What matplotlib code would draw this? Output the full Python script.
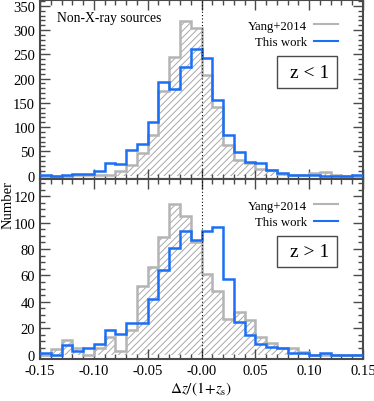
import numpy as np
import matplotlib
matplotlib.use("Agg")
import matplotlib.pyplot as plt
from matplotlib.ticker import MultipleLocator, FixedLocator
from matplotlib.patches import Rectangle
from matplotlib.lines import Line2D

plt.rcParams['font.family'] = ['Liberation Serif', 'DejaVu Serif']
plt.rcParams['mathtext.fontset'] = 'stix'
plt.rcParams['hatch.linewidth'] = 0.7

# bin edges: -0.15 .. 0.15 step 0.01
edges = np.round(np.arange(-0.15, 0.1501, 0.01), 3)

# z < 1 panel
yang_lo = [0, 0, 0, 1, 1, 2, 2, 10, 22, 47, 84, 175, 245, 318, 304,
           207, 141, 63, 33, 27, 14, 11, 3, 2, 2, 5, 7, 1, 0, 0]
this_lo = [1, 0, 1, 4, 4, 10, 26, 23, 53, 65, 110, 193, 178, 224, 260,
           243, 155, 84, 48, 29, 25, 11, 5, 2, 1, 1, 0, 0, 0, 1]

# z > 1 panel
yang_hi = [0, 4, 11, 5, 0, 5, 13, 3, 19, 52, 66, 89, 114, 105, 85,
           61, 48, 27, 32, 26, 13, 9, 5, 5, 2, 0, 0, 0, 0, 0]
this_hi = [1, 0, 7, 3, 5, 8, 19, 16, 24, 24, 42, 64, 81, 94, 87,
           94, 97, 57, 25, 15, 8, 6, 5, 1, 1, 0, 1, 0, 0, 0]

xticks = [-0.15, -0.10, -0.05, 0.00, 0.05, 0.10, 0.15]
xticklabels = ['-0.15', '-0.10', '-0.05', '-0.00', '0.05', '0.10', '0.15']
panel_labels = ['z < 1', 'z > 1']
legend_labels = ['Yang+2014', 'This work']

GRAY = '#b4b4b4'
HATCH = '#a8a8a8'
BLUE = '#1a6ff5'
SPINE = '#4a4a4a'

W, H = 374, 402
fig = plt.figure(figsize=(W / 100, H / 100), dpi=100)

def frac(x0, y0, x1, y1):
    return [x0 / W, 1 - y1 / H, (x1 - x0) / W, (y1 - y0) / H]

ax1 = fig.add_axes(frac(40, 1, 363, 180))
ax2 = fig.add_axes(frac(40, 180, 363, 360))

def draw(ax, yang, this, ylim, major, minor, label, show_x, leg_top):
    ax.stairs(yang, edges, fill=True, facecolor='white', edgecolor=HATCH,
              hatch='/////', linewidth=0, zorder=1)
    ax.stairs(yang, edges, color=GRAY, linewidth=1.8, zorder=2)
    ax.stairs(this, edges, color=BLUE, linewidth=1.8, zorder=3)
    ax.axvline(0.0, color='black', linestyle=(0, (1, 2)), linewidth=0.8, zorder=4)
    ax.set_xlim(-0.15, 0.15)
    ax.set_ylim(*ylim)
    ax.xaxis.set_major_locator(FixedLocator(xticks))
    ax.xaxis.set_minor_locator(MultipleLocator(0.01))
    ax.yaxis.set_major_locator(MultipleLocator(major))
    ax.yaxis.set_minor_locator(MultipleLocator(minor))
    ax.tick_params(which='both', direction='in', top=True, right=True,
                   color=SPINE, labelsize=10.5, width=1.0)
    ax.tick_params(which='major', length=7)
    ax.tick_params(which='minor', length=3.5)
    for s in ax.spines.values():
        s.set_color(SPINE)
        s.set_linewidth(1.5)
    if show_x:
        ax.set_xticklabels(xticklabels)
    else:
        ax.set_xticklabels([])
    handles = [Line2D([], [], color=GRAY, lw=1.5), Line2D([], [], color=BLUE, lw=1.5)]
    ax.legend(handles, legend_labels, loc='upper right', frameon=False,
              markerfirst=False, fontsize=9.2, handlelength=1.85,
              borderpad=0, borderaxespad=0, labelspacing=0.35,
              handletextpad=0.6, bbox_to_anchor=(0.923, leg_top))
    ax.add_patch(Rectangle((0.734, 0.51), 0.186, 0.175, transform=ax.transAxes,
                           fill=False, edgecolor=SPINE, linewidth=1.0, zorder=5))
    ax.text(0.895, 0.597, label, transform=ax.transAxes, ha='right', va='center',
            fontsize=14, zorder=6)

draw(ax1, yang_lo, this_lo, (-7, 362), 50, 10, panel_labels[0], False, 0.89)
draw(ax2, yang_hi, this_hi, (-3.3, 133), 20, 5, panel_labels[1], True, 0.885)

ax1.text(0.053, 0.9, 'Non-X-ray sources', transform=ax1.transAxes,
         ha='left', va='center', fontsize=9.8)

fig.text(8 / W, 1 - 205 / H, 'Number', rotation=90, ha='center', va='center',
         fontsize=10.5)
ax2.set_xlabel(r'$\Delta z/(1\!+\!z_{\rm s})$', fontsize=11, labelpad=2)

fig.savefig('out.png', dpi=100)
